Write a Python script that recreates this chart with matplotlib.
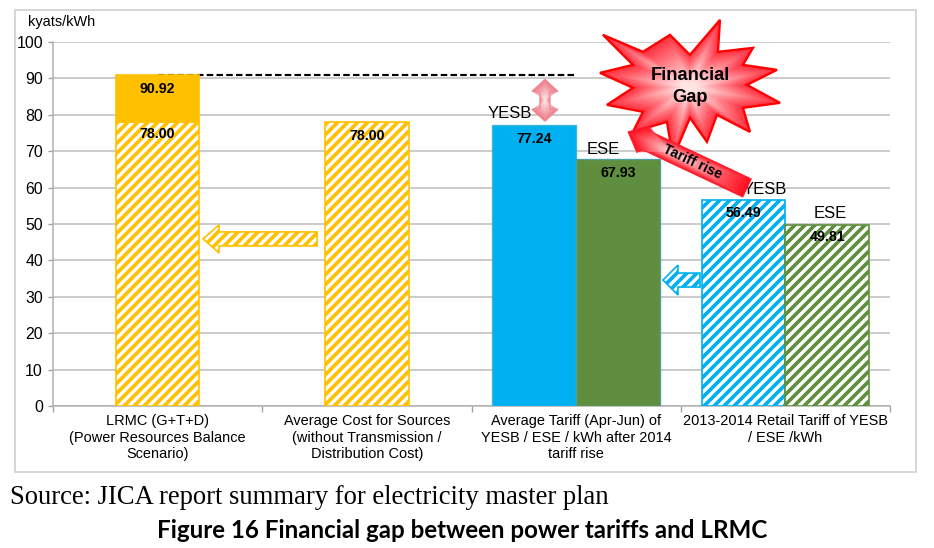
import numpy as np
import matplotlib
matplotlib.use("Agg")
import matplotlib.pyplot as plt
from matplotlib.patches import Polygon, Rectangle

# values (kyats/kWh)
categories = ["LRMC (G+T+D)\n(Power Resources Balance\nScenario)",
              "Average Cost for Sources\n(without Transmission /\nDistribution Cost)",
              "Average Tariff (Apr-Jun) of\nYESB / ESE / kWh after 2014\ntariff rise",
              "2013-2014 Retail Tariff of YESB\n/ ESE /kWh"]
lrmc_total = 90.92
source_cost = 78.00
yesb_new, ese_new = 77.24, 67.93
yesb_old, ese_old = 56.49, 49.81
yticks = list(range(0, 101, 10))

YELLOW = "#FFC000"
BLUE = "#00B0F0"
GREEN = "#5F8F3E"
HATCH = "////"

plt.rcParams["font.family"] = ["Liberation Sans", "DejaVu Sans"]
plt.rcParams["hatch.linewidth"] = 2.2

DPI = 120
fig = plt.figure(figsize=(934 / DPI, 548 / DPI), dpi=DPI)
ax = fig.add_axes([53 / 934, 1 - 406 / 548, 837 / 934, 364 / 548])
ax.set_xlim(0, 4)
ax.set_ylim(0, 100)

# outer chart frame
fig.patches.append(Rectangle((15 / 934, 1 - 472 / 548), 901 / 934, 462 / 548,
                             transform=fig.transFigure, fill=False,
                             edgecolor="#D0D0D0", lw=1.0))

w = 0.4
hatched = dict(facecolor="white", hatch=HATCH, linewidth=1.0, zorder=3)

# LRMC: hatched part = source cost, solid part up to LRMC
ax.bar(0.5, source_cost, w, edgecolor=YELLOW, **hatched)
ax.bar(0.5, lrmc_total - source_cost, w, bottom=source_cost, color=YELLOW,
       edgecolor=YELLOW, zorder=3)
ax.bar(1.5, source_cost, w, edgecolor=YELLOW, **hatched)
ax.bar(2.5 - w / 2, yesb_new, w, color=BLUE, edgecolor="#3FB8D8", lw=0.8, zorder=3)
ax.bar(2.5 + w / 2, ese_new, w, color=GREEN, edgecolor="#4FA0A0", lw=0.8, zorder=3)
ax.bar(3.5 - w / 2, yesb_old, w, edgecolor=BLUE, **hatched)
ax.bar(3.5 + w / 2, ese_old, w, edgecolor=GREEN, **hatched)

# value labels
lab = dict(ha="center", va="center", fontsize=8.5, fontweight="bold", zorder=6)
ax.text(0.5, lrmc_total - 3.8, f"{lrmc_total:.2f}", **lab)
ax.text(0.5, source_cost - 3.3, f"{source_cost:.2f}", **lab)
ax.text(1.5, source_cost - 3.8, f"{source_cost:.2f}", **lab)
ax.text(2.5 - w / 2, yesb_new - 4.0, f"{yesb_new:.2f}", **lab)
ax.text(2.5 + w / 2, ese_new - 4.0, f"{ese_new:.2f}", **lab)
ax.text(3.5 - w / 2, yesb_old - 3.5, f"{yesb_old:.2f}", **lab)
ax.text(3.5 + w / 2, ese_old - 3.5, f"{ese_old:.2f}", **lab)

name = dict(ha="center", va="center", fontsize=10, zorder=6)
ax.text(2.185, yesb_new + 3.2, "YESB", **name)
ax.text(2.628, ese_new + 2.4, "ESE", **name)
ax.text(3.40, yesb_old + 3.0, "YESB", **name)
ax.text(3.713, ese_old + 3.1, "ESE", **name)

# dashed LRMC level
ax.hlines(lrmc_total, 0.5, 2.5, colors="black", linestyles=(0, (3.0, 1.5)),
          lw=1.3, zorder=2)

# axes styling
ax.set_yticks(yticks)
ax.tick_params(axis="y", labelsize=9.5, length=3, color="#A0A0A0", pad=3)
ax.set_xticks(range(5))
ax.set_xticklabels([])
ax.tick_params(axis="x", which="major", length=3.5, color="#A0A0A0")
ax.set_xticks([0.5, 1.5, 2.5, 3.5], minor=True)
ax.set_xticklabels(categories, minor=True, fontsize=8.7, linespacing=1.2)
ax.tick_params(axis="x", which="minor", length=0, pad=5)
ax.grid(axis="y", color="#C8C8C8", lw=1.1, zorder=0)
ax.set_axisbelow(True)
for s in ("top", "right"):
    ax.spines[s].set_visible(False)
for s in ("left", "bottom"):
    ax.spines[s].set_color("#B0B0B0")
    ax.spines[s].set_linewidth(0.9)

fig.text(28 / 934, 1 - 22 / 548, "kyats/kWh", fontsize=8.7, va="center")


# ---- decorations, built in display pixels and mapped back to data ----
def to_data(p):
    return ax.transData.inverted().transform(p)


def arrow_px(start, end, shaft, head_w, head_l, double=False):
    a, b = ax.transData.transform([start, end])
    d = b - a
    u = d / np.hypot(*d)
    n = np.array([-u[1], u[0]])
    if double:
        a2 = a + u * head_l
        b2 = b - u * head_l
        pts = [a, a2 + n * head_w, a2 + n * shaft, b2 + n * shaft, b2 + n * head_w, b,
               b2 - n * head_w, b2 - n * shaft, a2 - n * shaft, a2 - n * head_w]
    else:
        b2 = b - u * head_l
        pts = [a + n * shaft, b2 + n * shaft, b2 + n * head_w, b, b2 - n * head_w,
               b2 - n * shaft, a - n * shaft]
    return np.array(pts)


def glow(pts, c_out, c_in, edge, lw=1.2, steps=25, zorder=7):
    cen = pts.mean(axis=0)
    c1 = np.array(matplotlib.colors.to_rgb(c_out))
    c2 = np.array(matplotlib.colors.to_rgb(c_in))
    for k in range(steps):
        s = 1 - 0.92 * k / steps
        col = c1 + (c2 - c1) * (k / (steps - 1))
        ax.add_patch(Polygon(to_data(cen + (pts - cen) * s), closed=True,
                             facecolor=col, edgecolor="none", zorder=zorder,
                             clip_on=False))
    ax.add_patch(Polygon(to_data(pts), closed=True, fill=False, edgecolor=edge,
                         lw=lw, zorder=zorder + 0.5, clip_on=False))


# hatched "shift" arrows
yel = arrow_px((1.262, 45.9), (0.717, 45.9), 7, 14, 16)
ax.add_patch(Polygon(to_data(yel), closed=True, facecolor="white", edgecolor=YELLOW,
                     hatch=HATCH, lw=1.0, zorder=4))
blu = arrow_px((3.092, 34.6), (2.915, 34.6), 7, 15, 15)
ax.add_patch(Polygon(to_data(blu), closed=True, facecolor="white", edgecolor=BLUE,
                     hatch=HATCH, lw=1.0, zorder=4))

# gap double arrow
gap = arrow_px((2.351, yesb_new + 1.0), (2.351, lrmc_total - 1.2), 5, 13, 12, double=True)
glow(gap, "#EE7F8C", "#FBE0E2", "#F08A95", lw=0.8, zorder=5)

# starburst
cx, cy = 3.044, 87.4
star_off = np.array([(-87, -53), (-47, -36), (-20, -53), (0, -33), (30, -68), (28, -36),
                     (63, -40), (53, -23), (87, -18), (57, -3), (90, 15), (53, 20),
                     (60, 44), (27, 27), (17, 54), (0, 30), (-17, 70), (-23, 34),
                     (-57, 44), (-47, 24), (-83, 17), (-57, 0), (-90, -15), (-57, -23)],
                    dtype=float)
star = ax.transData.transform((cx, cy)) + star_off * [1, -1]
glow(star, "#FF3040", "#FFE4E4", "#FF0000", lw=1.4, zorder=7)
ax.text(cx, cy + 3.4, "Financial", ha="center", va="center", fontsize=11,
        fontweight="bold", zorder=9)
ax.text(cx, cy - 2.6, "Gap", ha="center", va="center", fontsize=11,
        fontweight="bold", zorder=9)

# tariff rise arrow
tail, tip = (3.317, 59.9), (2.748, 75.3)
tar = arrow_px(tail, tip, 10, 15, 17)
glow(tar, "#FF1020", "#FFC8CC", "#FF2030", lw=0.6, zorder=8)
p0, p1 = ax.transData.transform([tip, tail])
ang = np.degrees(np.arctan2(p1[1] - p0[1], p1[0] - p0[0]))
mid = to_data((p0 + p1) / 2 + (p1 - p0) * 0.04)
ax.text(mid[0], mid[1], "Tariff rise", rotation=ang, rotation_mode="anchor",
        ha="center", va="center", fontsize=8.5, fontweight="bold", zorder=9)

# caption lines below the chart
fig.text(10 / 934, 1 - 497 / 548, "Source: JICA report summary for electricity master plan",
         family=["Liberation Serif", "DejaVu Serif"], fontsize=16, va="center")
fig.text(462 / 934, 1 - 530 / 548, "Figure 16 Financial gap between power tariffs and LRMC",
         family=["Lato", "DejaVu Sans"], fontweight="bold", fontsize=14.5,
         ha="center", va="center")

fig.savefig("out.png", dpi=DPI)
